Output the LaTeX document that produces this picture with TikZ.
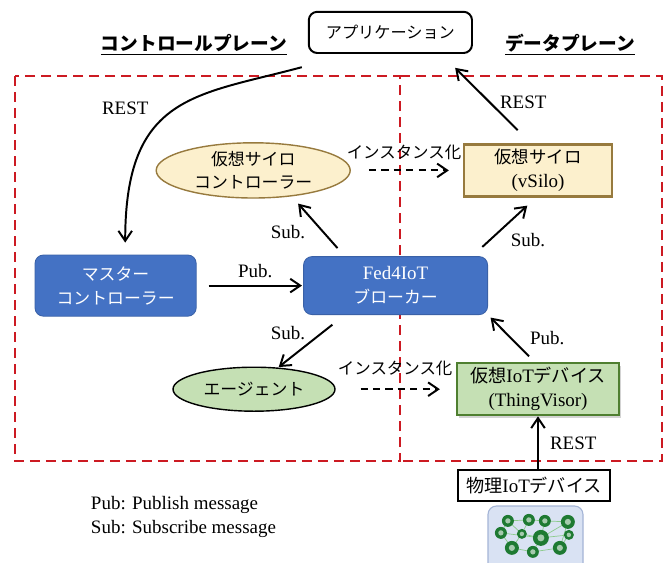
\documentclass[tikz,border=0pt]{standalone}
\usepackage{fontspec}
\setmainfont{Liberation Serif}
\newfontfamily\jpfont{Noto Sans CJK JP}
\usetikzlibrary{positioning,shapes.geometric,arrows.meta,shadows}

\definecolor{fedblue}{HTML}{4472C4}
\definecolor{siloyellow}{HTML}{FCF0CD}
\definecolor{silobrown}{HTML}{977A3E}
\definecolor{agentgreen}{HTML}{C5E0B4}
\definecolor{thinggreen}{HTML}{4F7F30}
\definecolor{planered}{RGB}{204,26,34}
\definecolor{picblue}{HTML}{D9E2F3}
\definecolor{picedge}{HTML}{A4B4D6}
\definecolor{icongreen}{HTML}{1E7A32}

% japanese text, optional size in pt
\newcommand{\jp}[2][12]{{\jpfont\fontsize{#1}{17}\selectfont #2}}

\begin{document}
\begin{tikzpicture}[-,>={Straight Barb[length=2.5mm,width=3.4mm]},line width=1.4pt,node distance=7cm,
    font=\fontsize{13.5}{17}\selectfont,
    plane/.style={draw=planered,line width=1.5pt,dash pattern=on 0.25cm off 0.15cm},
    inst/.style={->,dash pattern=on 0.18cm off 0.13cm},
    blue box/.style={rectangle,rounded corners=6pt,fill=fedblue,draw=fedblue!85!black,line width=0.6pt,text=white,align=center,inner sep=0},
    silo/.style={fill=siloyellow,draw=silobrown,align=center,inner sep=0},
    app box/.style={rectangle,draw,rounded corners=6pt,minimum width=4.08cm,minimum height=1.03cm}]

    \useasboundingbox (0,0) rectangle (16.8,-14.05);

    % the two planes, sharing the middle edge
    \draw[plane] (0.375,-1.9) rectangle (10,-11.525);
    \draw[plane] (10,-1.9) -- (16.55,-1.9) -- (16.55,-11.525) -- (10,-11.525);

    \node[app box] (app) at (9.76,-0.81) {\jp[11.5]{アプリケーション}};
    \node (cplane) at (4.85,-1.12) {\jp[13.3]{\bfseries\underline{コントロールプレーン}}};
    \node (dplane) at (14.25,-1.12) {\jp[13.3]{\bfseries\underline{データプレーン}}};

    \node[silo,ellipse,line width=1pt,minimum width=4.85cm,minimum height=1.38cm,font=\fontsize{13.5}{16}\selectfont] (vsc) at (6.33,-4.26) {\jp{仮想サイロ}\\\jp{コントローラー}};
    \node[silo,rectangle,line width=1.6pt,minimum width=3.7cm,minimum height=1.3cm] (vsilo) [right of = vsc, node distance=7.12cm] {\jp[12.4]{仮想サイロ}\\(vSilo)};

    \node[blue box,minimum width=4.03cm,minimum height=1.53cm] (master) at (2.89,-7.14) {\jp{マスター}\\\jp{コントローラー}};
    \node[blue box,minimum width=4.6cm,minimum height=1.45cm] (broker) [right of = master] {Fed4IoT\\\jp{ブローカー}};

    \node[ellipse,draw,fill=agentgreen,line width=1pt,minimum width=4.05cm,minimum height=1.1cm,inner sep=0] (agent) at (6.35,-9.73) {\jp{エージェント}};
    \node[rectangle,draw=thinggreen,fill=agentgreen,line width=1.6pt,minimum width=4.05cm,minimum height=1.3cm,align=center,inner sep=0,
        drop shadow={opacity=0.35,shadow xshift=0.06cm,shadow yshift=-0.06cm}] (viot) [right of = agent, node distance=7.1cm]
        {\jp[12.9]{仮想}IoT\jp[12.9]{デバイス}\\(ThingVisor)};
    \node[rectangle,draw,fill=white,line width=1.6pt,minimum width=3.8cm,minimum height=0.78cm,inner sep=0] (phys) at (13.35,-12.14) {\jp[12.9]{物理}IoT\jp[12.9]{デバイス}};

    % labels
    \node (rest1) at (3.13,-2.7) {REST};
    \node (rest2) at (13.08,-2.55) {REST};
    \node (rest3) at (14.33,-11.08) {REST};
    \node (sub1) at (7.2,-5.8) {Sub.};
    \node (sub2) at (13.2,-6.0) {Sub.};
    \node (sub3) at (7.2,-8.33) {Sub.};
    \node (pub1) at (6.38,-6.78) {Pub.};
    \node (pub2) at (13.68,-8.45) {Pub.};
    \node (inst1) at (10.1,-3.8) {\jp[11.7]{インスタンス化}};
    \node (inst2) at (9.88,-9.22) {\jp[11.7]{インスタンス化}};
    \node[align=left,anchor=west,inner sep=0] (legend) at (2.25,-12.93) {Pub: Publish message\\Sub: Subscribe message};

    % connectors
    \draw[->,shorten >=0.3cm] ([xshift=-0.15cm,yshift=-0.33cm]app.south west) .. controls +(195:2.75) and +(90:4) .. ([xshift=0.24cm]master.north);
    \draw[->,shorten <=0.46cm,shorten >=0.49cm] (vsilo.105) -- (app.337);
    \draw[->,shorten <=0.34cm,shorten >=0.3cm] (broker.21) -- (vsilo.266);
    \draw[->,shorten <=0.27cm,shorten >=0.24cm] (broker.150) -- (vsc.326);
    \draw[->,shorten <=0.39cm,shorten >=0.02cm] (broker.210) -- (agent.42);
    \draw[->,shorten <=0.3cm,shorten >=0.03cm] (master) -- (broker);
    \draw[->,shorten <=0.2cm,shorten >=0.09cm] (viot.97) -- (broker.south east);
    \draw[->] (phys.north -| viot.south) -- (viot.south);
    \draw[inst,shorten <=0.45cm,shorten >=0.35cm] (vsc) -- (vsilo);
    \draw[inst,shorten <=0.62cm,shorten >=0.4cm] (agent) -- (viot);

    % small picture of the devices
    \begin{scope}
        \clip (0,0) rectangle (16.8,-14.05);
        \draw[rounded corners=6pt,fill=picblue,draw=picedge,line width=0.8pt] (12.2,-12.65) rectangle (14.575,-14.4);
        \foreach \n/\x/\y/\r in {1/508/521/6,2/529/520/6,3/545/521/6,4/568/522/7,5/501/533/6,6/522/534/5,
                7/541/538/8,8/569/535/5,9/512/548/7,10/533/552/6,11/560/548/7}
            \coordinate (i\n) at (\x*0.025,-\y*0.025);
        \foreach \a/\b in {1/2,2/3,3/4,1/5,1/6,5/9,6/7,7/4,7/8,7/10,9/10,10/11,11/4,2/6,9/6,5/7,3/7,11/8}
            \draw[green!55!black!45,line width=0.5pt] (i\a) -- (i\b);
        \foreach \n/\x/\y/\r in {1/508/521/6,2/529/520/6,3/545/521/6,4/568/522/7,5/501/533/6,6/522/534/5,
                7/541/538/8,8/569/535/5,9/512/548/7,10/533/552/6,11/560/548/7} {
            \fill[icongreen] (i\n) circle (\r*0.025);
            \fill[white!60!icongreen] (i\n) circle (\r*0.011);
        }
    \end{scope}

\end{tikzpicture}
\end{document}
